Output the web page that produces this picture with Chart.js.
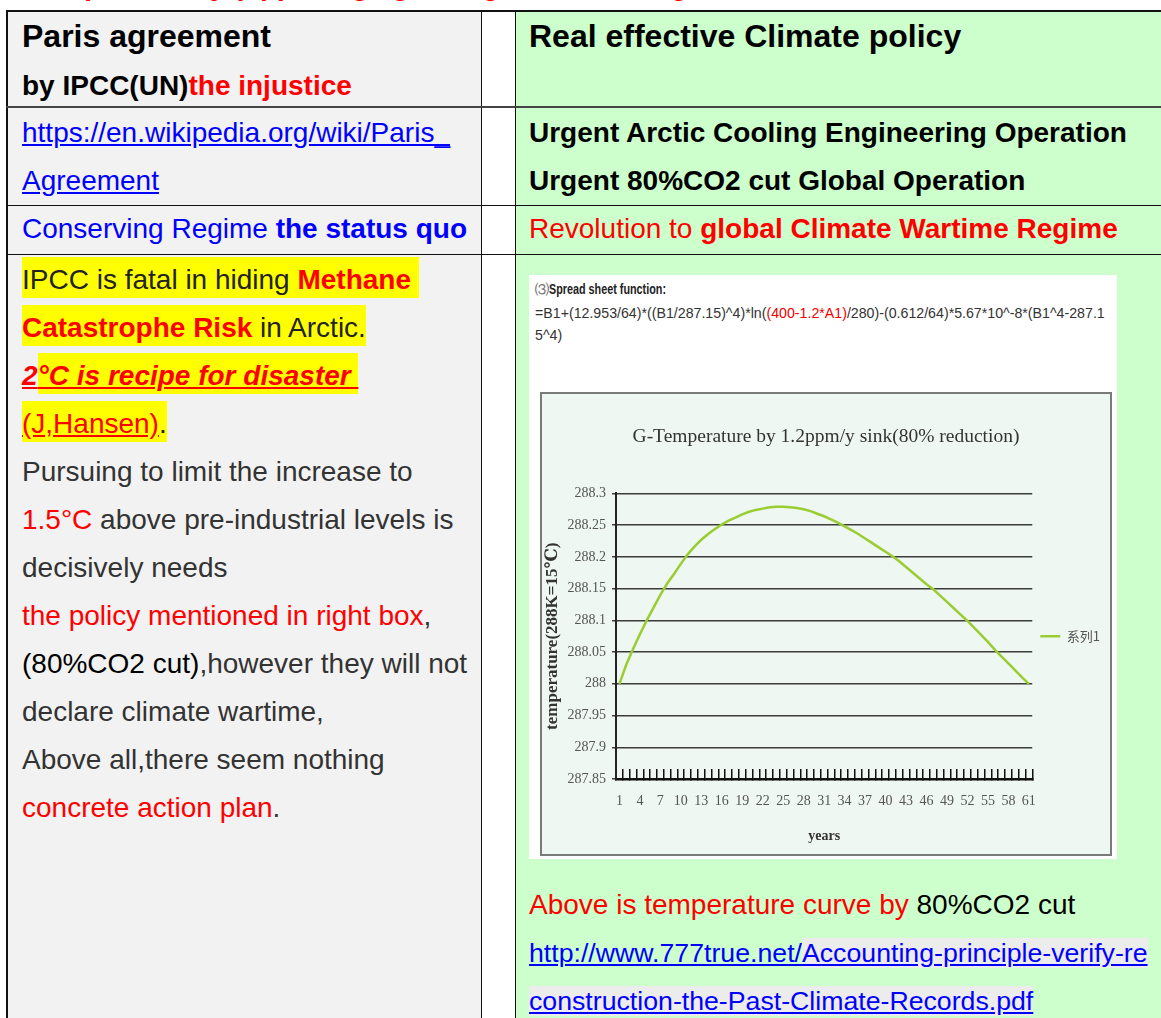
<!DOCTYPE html>
<html>
<head>
<meta charset="utf-8">
<script src="https://cdn.jsdelivr.net/npm/chart.js@4.4.0/dist/chart.umd.min.js"></script>
<style>
body{margin:0;background:#fff;width:1161px;height:1018px;overflow:hidden;position:relative;font-family:"Liberation Sans",Arial,sans-serif;}
.abs{position:absolute}
.txt{position:absolute;white-space:nowrap;font-size:28px;line-height:48px;color:#333}
.r{color:#f00}
.hl{background:#ff0;padding:7px 0 3px}
.blue{color:#00f}
.lk{color:#00f;text-decoration:underline}
.line{position:absolute;background:#111}
#img{position:absolute;left:529px;top:275px;width:588px;height:584px;background:#fff}
#img .f{position:absolute;left:6px;white-space:nowrap;font-size:14.2px;color:#333}
#box{position:absolute;left:11px;top:117px;width:572px;height:464px;box-sizing:border-box;border:2px solid #7a7a7a;background:#eef7f1}
</style>
</head>
<body>
<!-- column backgrounds -->
<div class="abs" style="left:7px;top:11px;width:475px;height:1010px;background:#f2f2f2"></div>
<div class="abs" style="left:516px;top:11px;width:645px;height:1010px;background:#ccffcc"></div>

<!-- cut-off heading above the table -->
<div class="txt r" style="left:22px;top:-28px;line-height:28px;font-weight:bold">Comparison by (opposing against global warming,</div>

<!-- grid lines -->
<div class="line" style="left:6px;top:10px;width:1155px;height:2px"></div>
<div class="line" style="left:6px;top:10px;width:2px;height:1010px"></div>
<div class="line" style="left:481px;top:10px;width:1px;height:1010px"></div>
<div class="line" style="left:515px;top:10px;width:1px;height:1010px"></div>
<div class="line" style="left:6px;top:106px;width:1155px;height:2px;background:#444"></div>
<div class="line" style="left:6px;top:205px;width:1155px;height:1px"></div>
<div class="line" style="left:6px;top:254px;width:1155px;height:1px"></div>

<!-- row 1 -->
<div class="txt" style="left:22px;top:12px;color:#000;font-weight:bold">
<span style="font-size:32px">Paris agreement</span><br>by IPCC(UN)<span class="r">the injustice</span>
</div>
<div class="txt" style="left:529px;top:12px;color:#000;font-weight:bold;font-size:32px">Real effective Climate policy</div>

<!-- row 2 -->
<div class="txt" style="left:22px;top:109px"><span class="lk">https://en.wikipedia.org/wiki/Paris_</span><br><span class="lk">Agreement</span></div>
<div class="txt" style="left:529px;top:109px;color:#000;font-weight:bold">Urgent Arctic Cooling Engineering Operation<br>Urgent 80%CO2 cut Global Operation</div>

<!-- row 3 -->
<div class="txt blue" style="left:22px;top:205px">Conserving Regime <b>the status quo</b></div>
<div class="txt r" style="left:529px;top:205px">Revolution to <b>global Climate Wartime Regime</b></div>

<!-- row 4 left -->
<div class="txt" style="left:22px;top:256px">
<span class="hl" style="color:#222">IPCC is fatal in hiding <b class="r">Methane&nbsp;</b></span><br>
<span class="hl" style="color:#222"><b class="r">Catastrophe Risk</b> in Arctic.</span><br>
<b class="r" style="font-style:italic;text-decoration:underline">2<span class="hl">°C is recipe for disaster&nbsp;</span></b><br>
<span class="hl" style="color:#222"><u class="r">(J,Hansen)</u>.</span><br>
Pursuing to limit the increase to<br>
<span class="r">1.5°C</span> above pre-industrial levels is<br>
decisively needs<br>
<span class="r">the policy mentioned in right box</span>,<br>
<span style="color:#000">(80%CO2 cut)</span>,however they will not<br>
declare climate wartime,<br>
Above all,there seem nothing<br>
<span class="r">concrete action plan</span>.
</div>

<!-- row 4 right: sheet image with chart -->
<div id="img">
  <div class="f" style="top:5px;line-height:18px"><span style="color:#777">⑶</span><b style="display:inline-block;transform:scaleX(0.72);transform-origin:left;color:#222;font-size:15px">Spread sheet function:</b></div>
  <div class="f" style="top:27px;line-height:22px">=B1+(12.953/64)*((B1/287.15)^4)*ln(<span style="color:#e00">(400-1.2*A1)</span>/280)-(0.612/64)*5.67*10^-8*(B1^4-287.1<br>5^4)</div>
  <div id="box"><canvas id="chart" width="568" height="460"></canvas></div>
</div>

<div class="txt" style="left:529px;top:881px">
<span class="r">Above is temperature curve by</span> <span style="color:#000">80%CO2 cut</span><br>
<span style="font-size:26.7px"><span class="lk">http://www.777true.net/<span style="background:#ececec">Accounting-principle-verify-re</span></span><br>
<span class="lk" style="background:#ececec">construction-the-Past-Climate-Records.pdf</span></span>
</div>

<script>
const years = [1,2,3,4,5,6,7,8,9,10,11,12,13,14,15,16,17,18,19,20,
  21,22,23,24,25,26,27,28,29,30,31,32,33,34,35,36,37,38,39,40,
  41,42,43,44,45,46,47,48,49,50,51,52,53,54,55,56,57,58,59,60,61];

const temps = [288.000,288.030,288.055,288.078,288.100,288.120,288.140,288.158,288.173,288.189,
  288.204,288.216,288.227,288.236,288.244,288.251,288.257,288.262,288.267,288.271,
  288.274,288.276,288.278,288.279,288.279,288.278,288.277,288.275,288.272,288.268,
  288.264,288.259,288.254,288.248,288.242,288.236,288.229,288.222,288.215,288.208,
  288.201,288.193,288.184,288.175,288.166,288.157,288.149,288.139,288.129,288.119,
  288.109,288.099,288.088,288.077,288.066,288.054,288.043,288.032,288.021,288.010,288.000];

const yTicks = [287.85,287.9,287.95,288,288.05,288.1,288.15,288.2,288.25,288.3];
const seriesName = '系列1';
const chartTitle = 'G-Temperature by 1.2ppm/y sink(80% reduction)';
const xTitle = 'years';
const yTitle = 'temperature(288K=15℃)';

Chart.defaults.font.family = "'Liberation Serif','DejaVu Serif',serif";

var ctx = document.getElementById('chart');
var myChart = new Chart(ctx, {
  type: 'line',
  data: {
    labels: years,
    datasets: [{
      label: seriesName,
      data: temps,
      borderColor: '#9acd32',
      backgroundColor: '#9acd32',
      borderWidth: 2.5,
      pointRadius: 0,
      tension: 0
    }]
  },
  options: {
    responsive: false,
    animation: false,
    layout: { padding: { right: 0, bottom: 9 } },
    plugins: {
      title: {
        display: true,
        text: chartTitle,
        color: '#333',
        font: { size: 19.5, weight: 'normal' },
        padding: { top: 31, bottom: 45 }
      },
      legend: {
        position: 'right',
        fullSize: false,
        labels: {
          usePointStyle: true,
          pointStyle: 'line',
          pointStyleWidth: 20,
          padding: 8,
          color: '#555',
          font: { family: "'Noto Sans CJK SC'", size: 13 }
        }
      },
      tooltip: { enabled: false }
    },
    scales: {
      x: {
        offset: true,
        afterFit: s => { s.height = 66; },
        grid: { offset: true, drawOnChartArea: false, tickLength: -10, color: '#111', lineWidth: 1.5 },
        border: { color: '#111', width: 2.5 },
        ticks: {
          autoSkip: false,
          maxRotation: 0,
          padding: 24,
          color: '#555',
          font: { size: 14 },
          callback: (v, i) => i % 3 === 0 ? years[i] : ''
        },
        title: { display: true, text: xTitle, color: '#333', font: { size: 14, weight: 'bold' }, padding: { top: 0, bottom: 0 } }
      },
      y: {
        min: 287.85,
        max: 288.3,
        afterBuildTicks: s => { s.ticks = yTicks.map(v => ({ value: v })); },
        afterFit: s => { s.width = 74; },
        grid: { color: '#3c3c3c', lineWidth: 1.5, tickLength: 4 },
        border: { color: '#222', width: 2 },
        ticks: {
          padding: 6,
          color: '#555',
          font: { size: 14 },
          callback: v => String(+v.toFixed(2))
        },
        title: { display: true, text: yTitle, color: '#333', font: { size: 17, weight: 'bold' }, padding: { top: 0, bottom: 0 } }
      }
    }
  }
});
</script>
</body>
</html>
